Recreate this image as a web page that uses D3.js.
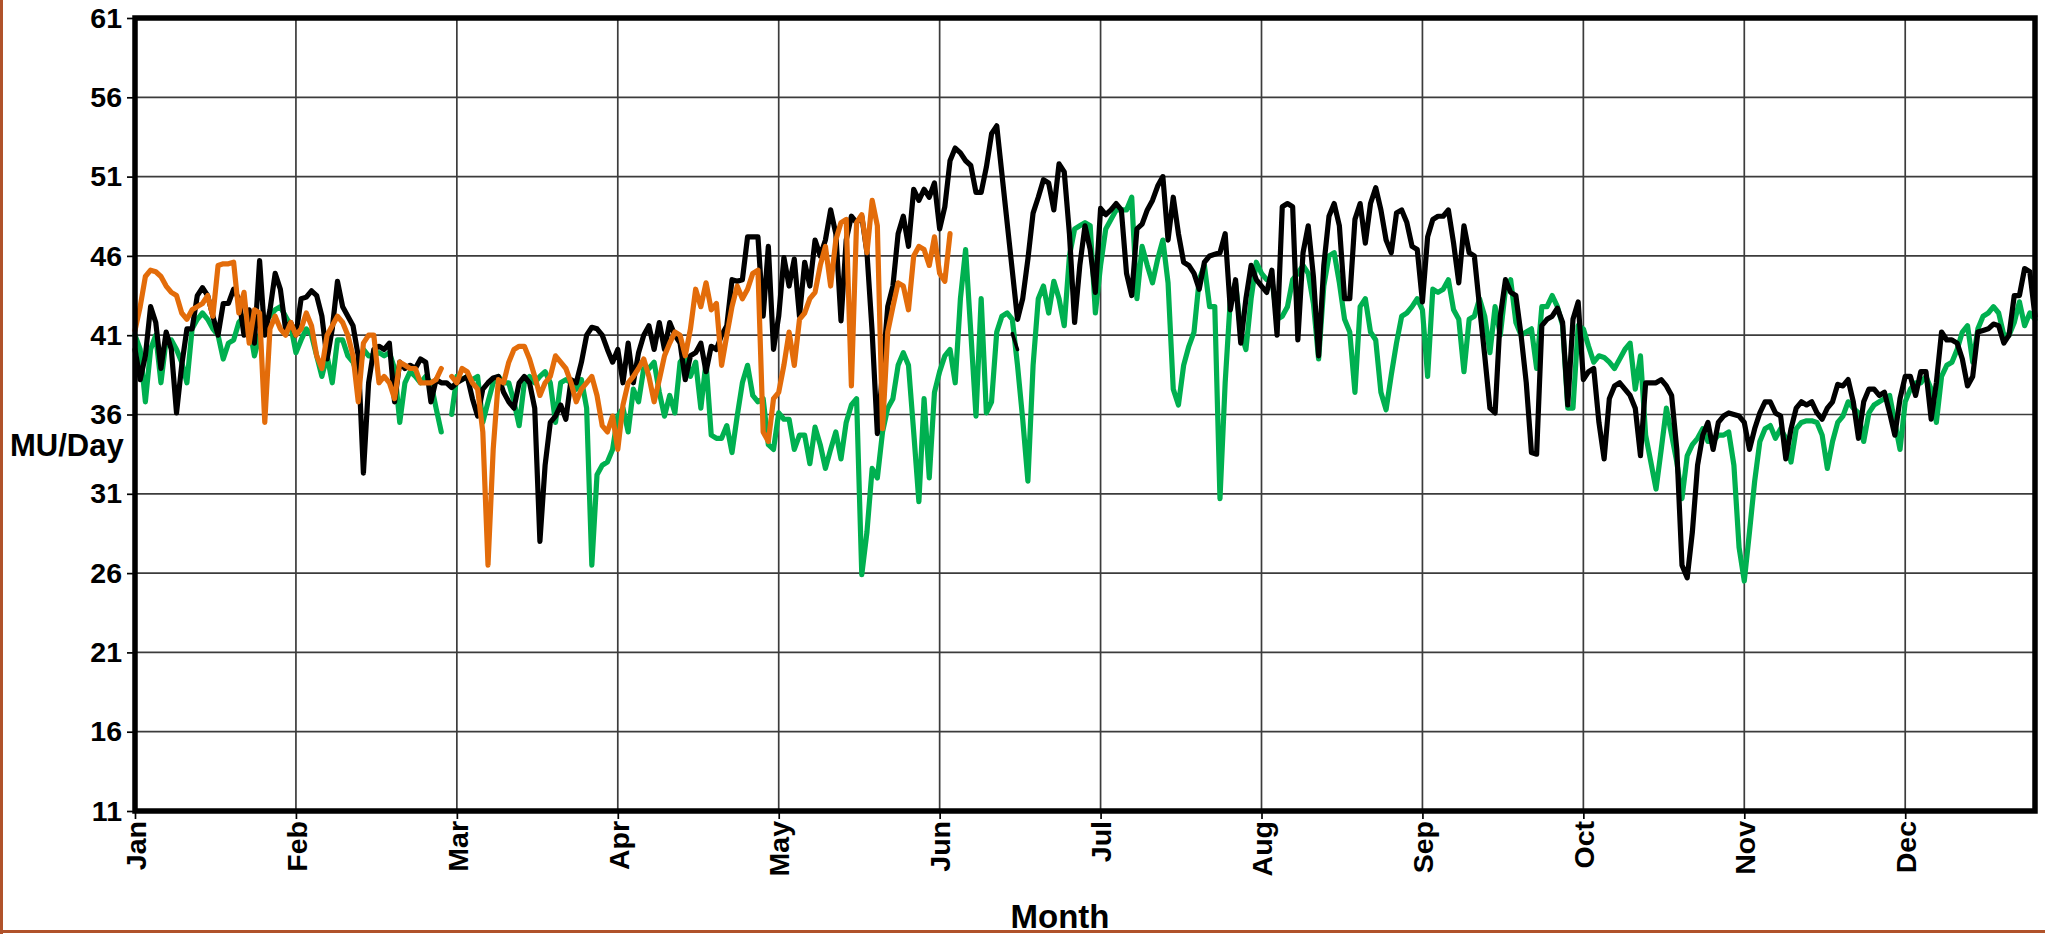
<!DOCTYPE html>
<html><head><meta charset="utf-8">
<script src="https://cdn.jsdelivr.net/npm/d3@7"></script>
<style>
html,body{margin:0;padding:0;background:#fff;}
svg{display:block;}
text{font-family:"Liberation Sans",Arial,sans-serif;font-weight:bold;fill:#000;}
</style></head><body>
<svg id="chart" width="2045" height="934"></svg>
<script>
// ---- data ----
const monthLabels = ["Jan","Feb","Mar","Apr","May","Jun","Jul","Aug","Sep","Oct","Nov","Dec"];
const monthTickDays = [0,31,62,93,124,155,186,217,248,279,310,341];
const yTickValues = [11,16,21,26,31,36,41,46,51,56,61];

const blackValues = [
40.1,38.2,39.7,42.8,41.8,38.9,41.2,40.1,36.1,39.1,41.4,41.4,43.5,44.0,43.5,42.2,41.0,43.0,43.0,43.9,
43.3,41.0,42.6,40.5,45.7,41.0,42.6,44.9,43.9,41.4,41.8,41.0,43.3,43.4,43.8,43.5,42.2,39.5,41.4,44.4,
42.8,42.2,41.6,39.7,32.3,38.0,40.1,40.3,40.1,40.5,36.8,39.3,38.9,39.1,38.9,39.5,39.3,36.8,38.2,38.0,
38.0,37.7,38.0,38.2,38.4,37.0,35.9,37.6,38.0,38.3,38.4,37.4,36.8,36.4,38.0,38.4,38.0,36.4,28.0,32.8,
35.5,35.9,36.6,35.7,38.2,38.0,39.3,41.0,41.5,41.4,41.0,40.1,39.3,40.1,38.0,40.5,38.0,39.9,41.0,41.6,
40.1,41.8,40.1,41.8,41.0,40.5,38.2,39.7,39.9,40.5,38.7,40.3,40.1,41.0,41.6,44.5,44.4,44.5,47.2,47.2,
47.2,42.2,46.6,40.1,42.2,45.9,44.1,45.8,42.2,45.6,44.1,47.0,46.0,47.0,48.9,47.4,41.9,47.0,48.5,48.1,
48.5,46.2,41.2,34.8,38.7,42.8,44.1,47.4,48.5,46.6,50.2,49.5,50.2,49.7,50.6,47.7,49.1,52.0,52.8,52.5,
52.0,51.7,50.0,50.0,51.6,53.7,54.2,null,null,null,42.0,43.3,45.8,48.7,49.7,50.8,50.6,48.9,51.8,51.3,
47.4,41.8,45.4,47.9,46.4,43.7,49.0,48.6,48.9,49.3,48.9,44.9,43.5,47.7,48.0,48.9,49.5,50.4,51.0,47.0,
49.7,47.4,45.6,45.4,44.9,43.9,45.6,46.0,46.1,46.2,47.4,42.6,44.5,40.5,43.3,45.4,44.5,44.1,43.7,45.1,
41.0,49.1,49.3,49.1,40.7,46.2,47.9,44.7,39.7,45.4,48.5,49.3,47.9,43.3,43.3,48.3,49.3,46.8,49.3,50.3,
48.9,47.0,46.2,48.7,48.9,48.1,46.6,46.4,43.1,47.2,48.3,48.5,48.5,48.9,46.8,44.3,47.9,46.2,46.0,42.8,
39.7,36.4,36.1,42.2,44.5,43.7,43.5,41.0,38.0,33.6,33.5,41.6,42.0,42.2,42.7,41.8,36.6,42.0,43.1,38.2,
38.7,38.9,35.5,33.2,37.0,37.8,38.0,37.6,37.2,36.4,33.4,38.0,38.0,38.0,38.2,37.8,37.2,33.8,26.5,25.7,
28.6,32.8,34.7,35.5,33.8,35.5,35.9,36.1,36.0,35.9,35.5,33.8,35.1,36.1,36.8,36.8,36.1,35.9,33.2,35.1,
36.4,36.8,36.6,36.8,36.1,35.7,36.4,36.8,37.9,37.8,38.2,36.8,34.5,36.8,37.6,37.6,37.2,37.4,36.1,34.7,
37.0,38.4,38.4,37.2,38.7,38.7,35.7,38.0,41.2,40.7,40.7,40.5,39.5,37.8,38.4,41.2,41.3,41.4,41.7,41.6,
40.5,41.0,43.5,43.5,45.2,45.0,42.2
];

const greenValues = [
41.0,40.1,36.8,40.1,41.0,38.0,40.7,40.7,40.1,39.3,38.0,41.4,42.0,42.4,42.0,41.4,41.0,39.5,40.5,40.7,
41.8,42.2,41.6,39.7,41.0,42.0,42.2,42.6,42.8,42.2,41.6,39.9,40.7,41.4,41.0,39.7,38.4,39.7,38.0,40.7,
40.7,39.7,39.3,38.4,40.1,39.7,39.7,39.9,39.7,39.9,38.9,35.5,38.0,38.7,38.4,38.0,38.4,38.0,36.4,34.9,
null,36.0,38.4,38.2,38.4,38.2,38.4,35.5,36.8,38.0,38.4,38.0,38.0,36.8,35.3,38.0,38.4,38.0,38.4,38.7,
38.0,35.5,38.0,38.2,38.0,37.6,38.2,36.4,26.5,32.2,32.8,33.0,33.8,35.9,36.4,34.9,37.6,36.8,38.9,38.9,
39.3,37.4,35.9,37.2,36.1,39.3,39.7,38.4,39.3,36.4,39.3,34.7,34.5,34.5,35.3,33.6,35.9,38.0,39.1,37.2,
36.8,37.0,34.1,33.8,36.1,35.7,35.7,33.8,34.7,34.7,32.9,35.2,34.1,32.6,33.8,34.9,33.2,35.5,36.6,37.0,
25.9,28.6,32.6,32.0,34.9,36.4,37.0,39.1,39.9,39.1,34.9,30.5,37.0,32.0,37.4,38.7,39.7,40.1,38.0,43.3,
46.4,41.2,35.9,43.3,36.1,36.8,41.2,42.2,42.4,42.0,39.1,35.7,31.8,39.1,43.3,44.1,42.4,44.4,43.3,41.6,
46.0,47.7,47.9,48.1,47.9,42.4,45.4,47.7,48.3,48.9,48.9,48.9,49.7,43.3,46.6,45.4,44.3,45.8,47.0,44.3,
37.6,36.6,39.1,40.3,41.2,44.5,45.4,42.8,42.8,30.7,38.0,43.3,44.3,41.2,40.1,43.3,45.6,44.9,44.5,44.5,
42.0,42.2,42.8,44.5,44.9,45.4,44.9,43.0,39.5,44.1,46.0,46.2,44.3,42.0,41.2,37.4,42.8,43.3,41.2,40.7,
37.4,36.3,38.5,40.5,42.2,42.4,42.8,43.3,42.6,38.4,43.9,43.7,43.9,44.5,42.6,42.0,38.7,42.0,42.2,43.3,
42.2,39.9,42.8,41.0,43.9,44.5,41.8,41.0,41.2,41.4,38.9,42.8,42.8,43.5,42.8,41.6,36.4,36.4,41.6,41.4,
40.3,39.3,39.7,39.6,39.3,38.9,39.5,40.1,40.5,37.6,39.7,34.7,33.0,31.3,33.8,36.4,34.7,33.0,30.7,33.4,
34.1,34.5,35.1,34.3,34.3,34.7,34.7,34.9,32.8,27.6,25.5,28.6,31.8,34.3,35.1,35.3,34.5,35.1,34.5,33.0,
35.1,35.5,35.6,35.6,35.5,34.7,32.6,34.3,35.5,35.9,36.8,36.4,36.1,34.3,36.1,36.6,36.8,37.0,37.2,35.5,
33.8,36.8,37.6,38.0,38.0,38.4,37.6,35.5,38.4,39.1,39.3,40.1,41.2,41.6,39.3,41.4,42.2,42.4,42.8,42.4,
41.0,41.0,41.8,43.1,41.6,42.4,42.0
];

const orangeValues = [
41.3,42.8,44.7,45.1,45.0,44.7,44.1,43.7,43.5,42.4,42.0,42.6,42.8,43.0,43.5,42.2,45.4,45.5,45.5,45.6,
42.4,43.7,40.5,42.6,42.4,35.5,41.4,42.2,41.4,41.0,41.8,41.0,41.4,42.4,41.6,39.7,38.9,41.0,41.6,42.2,
41.8,41.0,39.7,36.8,40.5,41.0,41.0,38.0,38.4,38.0,37.0,39.3,39.1,38.9,38.9,38.0,38.0,38.0,38.2,38.9,
null,38.4,38.0,38.9,38.7,38.0,37.6,34.9,26.5,33.8,38.2,38.0,39.3,40.1,40.3,40.3,39.5,38.4,37.2,38.0,
38.4,39.7,39.3,38.9,38.0,36.8,37.6,38.0,38.4,37.2,35.3,34.9,35.9,33.8,36.6,38.0,38.4,38.9,39.5,38.4,
36.8,38.2,39.7,40.5,41.2,41.0,39.7,41.4,43.9,42.8,44.3,42.6,43.0,39.1,41.0,42.8,44.1,43.3,43.9,44.9,
45.1,34.9,34.3,37.0,37.4,39.1,41.2,39.1,42.0,42.4,43.3,43.7,45.4,46.6,44.1,47.0,48.1,48.3,37.8,48.1,
48.6,46.2,49.5,47.9,35.1,41.2,42.8,44.3,44.1,42.6,46.0,46.6,46.4,45.4,47.2,44.9,44.4,47.4
];

const blackStubDays = [169,170];
const blackStubValues = [41.1,40.1];

// ---- layout ----
const W = 2045, H = 934;
const plot = {left:135, right:2035, top:18, bottom:811};

const svg = d3.select("#chart");
svg.append("rect").attr("width",W).attr("height",H).attr("fill","#fff");

// brown outer border (left + bottom)
svg.append("line").attr("x1",1.5).attr("x2",1.5).attr("y1",0).attr("y2",H).attr("stroke","#b0522a").attr("stroke-width",3);
svg.append("line").attr("x1",0).attr("x2",W).attr("y1",931.5).attr("y2",931.5).attr("stroke","#b0522a").attr("stroke-width",3);

const x = d3.scaleLinear().domain([0,366]).range([plot.left, plot.right]);
const y = d3.scaleLinear().domain([11,61]).range([plot.bottom, plot.top]);

// grid
const grid = svg.append("g");
grid.selectAll("line.h").data(yTickValues).join("line")
  .attr("x1",plot.left).attr("x2",plot.right)
  .attr("y1",d=>y(d)).attr("y2",d=>y(d))
  .attr("stroke","#3c3c3c").attr("stroke-width",1.7);
grid.selectAll("line.v").data(monthTickDays).join("line")
  .attr("x1",d=>x(d)).attr("x2",d=>x(d))
  .attr("y1",plot.top).attr("y2",plot.bottom)
  .attr("stroke","#3c3c3c").attr("stroke-width",1.7);

// axes
const yAxis = svg.append("g").attr("transform",`translate(${plot.left},0)`)
  .call(d3.axisLeft(y).tickValues(yTickValues).tickSize(8).tickPadding(5).tickFormat(d3.format("d")));
yAxis.select(".domain").remove();
yAxis.selectAll(".tick line").attr("stroke","#000").attr("stroke-width",1.7);
yAxis.selectAll(".tick text").attr("font-size",28.5).attr("font-family","Liberation Sans, Arial, sans-serif").attr("font-weight","bold").attr("fill","#000");

const xAxis = svg.append("g").attr("transform",`translate(0,${plot.bottom})`)
  .call(d3.axisBottom(x).tickValues(monthTickDays).tickSize(8).tickFormat((d,i)=>monthLabels[i]));
xAxis.select(".domain").remove();
xAxis.selectAll(".tick line").attr("stroke","#000").attr("stroke-width",1.7);
xAxis.selectAll(".tick text")
  .attr("font-size",28.5).attr("font-family","Liberation Sans, Arial, sans-serif").attr("font-weight","bold").attr("fill","#000")
  .attr("transform","rotate(-90)")
  .attr("text-anchor","end")
  .attr("x",-10).attr("y",0).attr("dy","0.36em");

// series
const toPts = vals => vals.map((v,i)=>({day:i, v:v}));
const line = d3.line().x(d=>x(d.day)).y(d=>y(d.v)).defined(d=>d.v!=null);

const series = svg.append("g").attr("fill","none").attr("stroke-width",5.2)
  .attr("stroke-linejoin","round").attr("stroke-linecap","round");

series.append("path").datum(toPts(greenValues)).attr("stroke","#00b050").attr("d",line);
series.append("path").datum(toPts(blackValues).filter(d=>d.v!=null)).attr("stroke","#000").attr("d",line);
series.append("path").datum(blackStubDays.map((d,i)=>({day:d, v:blackStubValues[i]}))).attr("stroke","#000").attr("stroke-width",3.5).attr("d",line);
series.append("path").datum(toPts(orangeValues)).attr("stroke","#e36c0a").attr("d",line);

// frame
svg.append("rect").attr("x",plot.left).attr("y",plot.top)
  .attr("width",plot.right-plot.left).attr("height",plot.bottom-plot.top)
  .attr("fill","none").attr("stroke","#000").attr("stroke-width",5.5);

// axis titles
svg.append("text").attr("x",10).attr("y",456).attr("font-size",31).text("MU/Day");
svg.append("text").attr("x",1060).attr("y",928).attr("text-anchor","middle").attr("font-size",33).text("Month");
</script>
</body></html>
